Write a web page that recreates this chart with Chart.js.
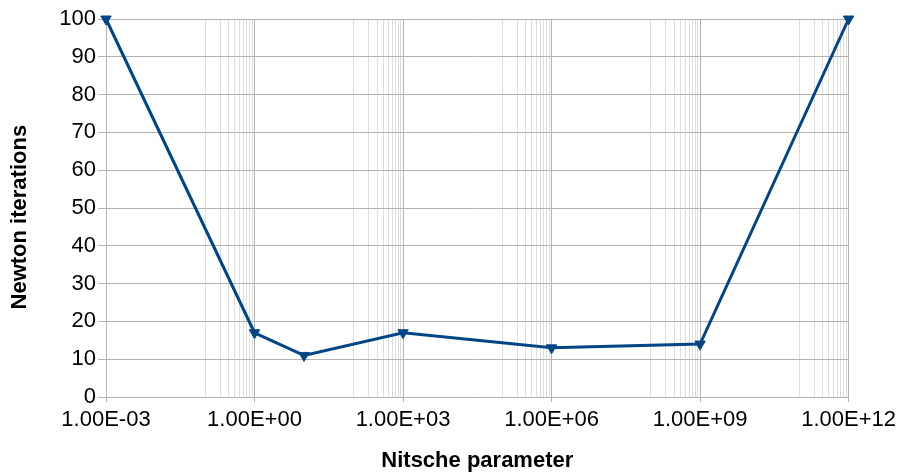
<!DOCTYPE html>
<html>
<head>
<meta charset="utf-8">
<script src="https://cdn.jsdelivr.net/npm/chart.js@4/dist/chart.umd.min.js"></script>
<style>
    html, body { margin: 0; padding: 0; background: #ffffff; }
    #wrap { width: 901px; height: 472px; }
</style>
</head>
<body>
<div id="wrap"><canvas id="chart1"></canvas></div>
<script>
// Nitsche parameter vs Newton iterations
var nitsche = [1e-3, 1, 10, 1e3, 1e6, 1e9, 1e12];
var iterations = [100, 17, 11, 17, 13, 14, 100];
var xMajorTicks = [1e-3, 1, 1e3, 1e6, 1e9, 1e12];
var yMax = 100;

var lineColor = '#004586';
var majorGrid = '#b3b3b3';
var minorGrid = '#dedede';

function sciLabel(v) {
    var e = Math.round(Math.log10(v));
    var m = v / Math.pow(10, e);
    var s = e < 0 ? '-' : '+';
    var a = Math.abs(e);
    return m.toFixed(2) + 'E' + s + (a < 10 ? '0' + a : a);
}

window.onload = function () {
    var ctx = document.getElementById('chart1');
    new Chart(ctx, {
        type: 'scatter',
        data: {
            datasets: [{
                label: 'Newton iterations',
                data: nitsche.map(function (x, i) { return { x: x, y: iterations[i] }; }),
                showLine: true,
                borderColor: lineColor,
                backgroundColor: lineColor,
                borderWidth: 3,
                pointStyle: 'triangle',
                pointRotation: 180,
                pointRadius: 6,
                pointBorderWidth: 1,
                clip: false
            }]
        },
        options: {
            responsive: true,
            maintainAspectRatio: false,
            animation: false,
            layout: { padding: { left: 0, right: 52, top: 19, bottom: 0 } },
            plugins: { legend: { display: false }, tooltip: { enabled: false } },
            scales: {
                x: {
                    type: 'logarithmic',
                    min: xMajorTicks[0],
                    max: xMajorTicks[xMajorTicks.length - 1],
                    afterBuildTicks: function (scale) {
                        var t = [];
                        for (var i = 0; i < xMajorTicks.length; i++) {
                            t.push({ value: xMajorTicks[i], major: true });
                            if (i < xMajorTicks.length - 1) {
                                var a = xMajorTicks[i], b = xMajorTicks[i + 1];
                                for (var k = 1; k < 10; k++) {
                                    t.push({ value: a + k * (b - a) / 10, major: false });
                                }
                            }
                        }
                        scale.ticks = t;
                    },
                    afterFit: function (scale) { scale.height = 75; },
                    ticks: {
                        autoSkip: false,
                        maxRotation: 0,
                        padding: 5,
                        color: '#000000',
                        font: { family: 'Liberation Sans', size: 22 },
                        callback: function (v, i, ticks) {
                            return ticks[i].major ? sciLabel(v) : '';
                        }
                    },
                    grid: {
                        color: function (c) { return c.tick && c.tick.major ? majorGrid : minorGrid; },
                        tickColor: function (c) { return c.tick && c.tick.major ? majorGrid : 'rgba(0,0,0,0)'; },
                        tickLength: 5,
                        lineWidth: 1
                    },
                    border: { color: majorGrid },
                    title: {
                        display: true,
                        text: 'Nitsche parameter',
                        color: '#000000',
                        font: { family: 'Liberation Sans', size: 22, weight: 'bold', lineHeight: 1 },
                        padding: { top: 0, bottom: 0 }
                    }
                },
                y: {
                    min: 0,
                    max: yMax,
                    afterFit: function (scale) { scale.width = 106; },
                    ticks: {
                        stepSize: 5,
                        padding: 2,
                        color: '#000000',
                        font: { family: 'Liberation Sans', size: 22 },
                        callback: function (v) { return v % 10 === 0 ? v : ''; }
                    },
                    grid: {
                        color: function (c) { return c.tick && c.tick.value % 10 === 0 ? majorGrid : minorGrid; },
                        tickColor: function (c) { return c.tick && c.tick.value % 10 === 0 ? majorGrid : 'rgba(0,0,0,0)'; },
                        tickLength: 8,
                        lineWidth: 1
                    },
                    border: { color: majorGrid },
                    title: {
                        display: true,
                        // trailing spaces push the title a bit lower, like the original
                        text: 'Newton iterations   ',
                        color: '#000000',
                        font: { family: 'Liberation Sans', size: 22, weight: 'bold', lineHeight: 1 },
                        padding: { top: 9, bottom: 0 }
                    }
                }
            }
        }
    });
};
</script>
</body>
</html>
